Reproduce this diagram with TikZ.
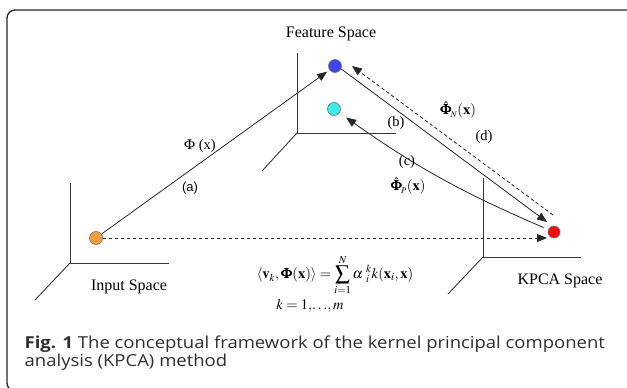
\documentclass[tikz,border=0pt]{standalone}
\usepackage{amsmath}
\usepackage{mathptmx}
\usepackage{bm}
\usepackage{fontspec}
\setmainfont{Liberation Serif}
\newfontfamily\capfont[FakeStretch=1.12]{Open Sans}
\newfontfamily\labsans{Liberation Sans}
\usetikzlibrary{arrows.meta,calc}

\tikzset{
  axis/.style={draw=black!78, line width=0.9pt},
  dot/.style={circle, draw=black!55, line width=0.6pt, minimum size=13pt, inner sep=0pt},
  arr/.style={draw=black!85, line width=0.8pt, -{Triangle[length=10pt,width=8pt]}},
  dasharr/.style={arr, dash pattern=on 3.5pt off 2.5pt},
  spacelabel/.style={inner sep=1pt, font=\fontsize{16}{18}\selectfont},
  lab/.style={inner sep=0.5pt, font=\fontsize{14.5}{16}\selectfont},
  captext/.style={anchor=base west, inner sep=0.5pt, text=black!82, font=\capfont\fontsize{16.5}{18}\selectfont}
}

\begin{document}
\begin{tikzpicture}[x=1pt,y=-1pt]
\useasboundingbox (0,0) rectangle (627,388);

% outer frame
\draw[line width=1.3pt, draw=black!85, rounded corners=8pt] (7,10) rectangle (650,391);

% three coordinate frames
\draw[axis] (70,183) -- (70,263) -- (169,263);
\draw[axis] (70,263) -- (35,300);
\draw[axis] (297,53) -- (297,133) -- (396,133);
\draw[axis] (297,133) -- (262,171);
\draw[axis] (483,178) -- (483,257) -- (581,257);
\draw[axis] (483,257) -- (448,294);

% space names
\node[spacelabel] (fs) at (331,34) {Feature Space};
\node[spacelabel] (is) at (129,287) {Input Space};
\node[spacelabel] (ks) at (560,281) {KPCA Space};

% points
\node[dot, fill={rgb,255:red,240;green,160;blue,64}] (px) at (96,238) {};
\node[dot, fill={rgb,255:red,66;green,66;blue,240}] (phi) at (335,66) {};
\node[dot, fill={rgb,255:red,60;green,235;blue,235}] (pre) at (334,109) {};
\node[dot, fill={rgb,255:red,250;green,10;blue,10}, minimum size=12pt] (kp) at (554,232) {};

% mappings
\draw[arr, shorten >=3pt] (px) -- (phi);
\coordinate (hEnd) at (547,238);
\draw[dasharr] (px) -- (hEnd);
\coordinate (bEnd) at (547,222);
\draw[arr] (phi.-25) -- (bEnd);
\coordinate (dS) at (553,215);
\coordinate (dE) at (352,66);
\draw[dasharr] (dS) -- (dE);
\draw[arr, shorten <=5pt, shorten >=8pt] (kp) to[bend left=6] (pre);

% labels
\node[lab] (l1) at (200,146) {$\Phi$ (x)};
\node[inner sep=0.5pt, font=\labsans\fontsize{13}{15}\selectfont] (la) at (190,188) {(a)};
\node[lab] (lb) at (396,123) {(b)};
\node[lab] (ln) at (458,110) {$\hat{\bm{\Phi}}_{\!\scriptscriptstyle N}(\mathbf{x})$};
\node[lab] (ld) at (484,137) {(d)};
\node[lab] (lc) at (407,162) {(c)};
\node[lab] (lp) at (408,186) {$\hat{\bm{\Phi}}_{\!\scriptscriptstyle P}(\mathbf{x})$};

% projection formula
\node[lab] (eq) at (335,275) {$\left\langle \mathbf{v}_{k}, \bm{\Phi}(\mathbf{x})\right\rangle = \displaystyle\sum_{i=1}^{N}\alpha\;{}^{k}_{i}k(\mathbf{x}_{i},\mathbf{x})$};
\node[lab] (eqk) at (310,306) {$k=1,\!\ldots\!,m$};

% caption
\node[captext] (c1) at (24,348) {\textbf{Fig. 1} The conceptual framework of the kernel principal component};
\node[captext] (c2) at (24,366) {analysis (KPCA) method};
\end{tikzpicture}
\end{document}
